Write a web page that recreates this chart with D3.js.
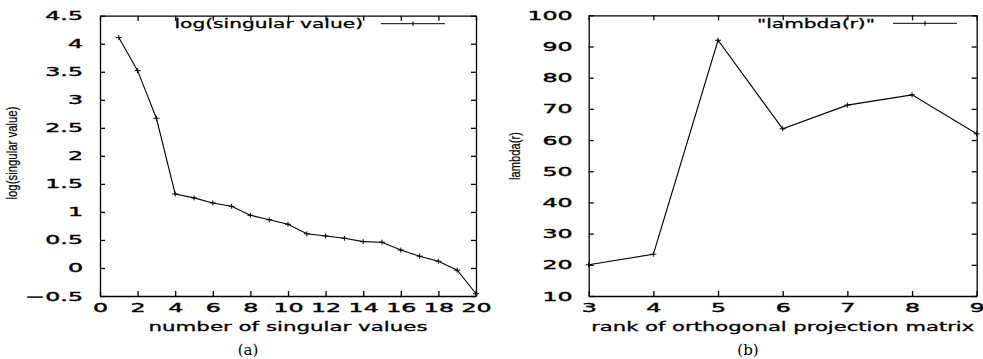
<!DOCTYPE html>
<html>
<head>
<meta charset="utf-8">
<script src="https://cdn.jsdelivr.net/npm/d3@7"></script>
<style>
body { margin: 0; background: #fff; }
svg { display: block; }
.domain, .tick line { stroke: #000; stroke-width: 1.3; }
</style>
</head>
<body>
<script>
// left panel: log of singular values
var svIndex = [1,2,3,4,5,6,7,8,9,10,11,12,13,14,15,16,17,18,19,20];
var svLog = [4.11,3.52,2.67,1.32,1.25,1.16,1.10,0.94,0.86,0.78,0.61,0.57,0.53,0.47,0.46,0.32,0.21,0.12,-0.04,-0.46];
var svXTicks = [0,2,4,6,8,10,12,14,16,18,20];
var svYTicks = [-0.5,0,0.5,1,1.5,2,2.5,3,3.5,4,4.5];

// right panel: lambda(r)
var rank = [3,4,5,6,7,8,9];
var lambda = [20.0,23.4,92.0,63.6,71.2,74.5,62.0];
var rankTicks = [3,4,5,6,7,8,9];
var lambdaTicks = [10,20,30,40,50,60,70,80,90,100];

var WIDE = 1.9; // the original lettering is wide

var svg = d3.select('body')
  .append('svg')
  .attr('width', 983)
  .attr('height', 359);

function stretch(k) {
  return function(sel) {
    sel.each(function() {
      var w = this.getComputedTextLength();
      d3.select(this).attr('textLength', w * k).attr('lengthAdjust', 'spacingAndGlyphs');
    });
  };
}

function tickFont(sel) {
  sel.style('font-family', '"DejaVu Sans", sans-serif')
    .style('font-size', '12.5px')
    .style('fill', '#000')
    .style('stroke', '#000')
    .style('stroke-width', '0.4px');
}

function panel(opt) {
  var x = d3.scaleLinear().domain(opt.xDomain).range([opt.left, opt.right]);
  var y = d3.scaleLinear().domain(opt.yDomain).range([opt.bottom, opt.top]);
  var g = svg.append('g');

  // frame with inward ticks on all four sides
  var xb = g.append('g')
    .attr('transform', 'translate(0,' + opt.bottom + ')')
    .call(d3.axisBottom(x).tickValues(opt.xTicks).tickSizeInner(-5).tickSizeOuter(0).tickPadding(7).tickFormat(d3.format('')));
  g.append('g')
    .attr('transform', 'translate(0,' + opt.top + ')')
    .call(d3.axisTop(x).tickValues(opt.xTicks).tickSizeInner(-5).tickSizeOuter(0).tickFormat(''));
  var yl = g.append('g')
    .attr('transform', 'translate(' + opt.left + ',0)')
    .call(d3.axisLeft(y).tickValues(opt.yTicks).tickSizeInner(-5).tickSizeOuter(0).tickFormat(d3.format('')));
  g.append('g')
    .attr('transform', 'translate(' + opt.right + ',0)')
    .call(d3.axisRight(y).tickValues(opt.yTicks).tickSizeInner(-5).tickSizeOuter(0).tickFormat(''));

  xb.selectAll('.tick text')
    .call(tickFont)
    .attr('text-anchor', 'middle')
    .attr('transform', 'scale(' + WIDE + ',1)');
  yl.selectAll('.tick text')
    .call(tickFont)
    .attr('text-anchor', 'end')
    .attr('x', -opt.yPad / WIDE)
    .attr('transform', 'scale(' + WIDE + ',1)');

  var pts = opt.xs.map(function(d, i) { return [d, opt.ys[i]]; });

  g.append('path')
    .datum(pts)
    .attr('fill', 'none')
    .attr('stroke', '#000')
    .attr('stroke-width', 1.1)
    .attr('d', d3.line().x(function(d) { return x(d[0]); }).y(function(d) { return y(d[1]); }));

  g.selectAll('.pt')
    .data(pts)
    .enter()
    .append('path')
    .attr('class', 'pt')
    .attr('stroke', '#000')
    .attr('stroke-width', 1)
    .attr('d', function(d) {
      var px = x(d[0]), py = y(d[1]);
      return 'M' + (px - 3) + ',' + py + 'H' + (px + 3) + 'M' + px + ',' + (py - 2.5) + 'V' + (py + 2.5);
    });

  // legend
  g.append('text')
    .attr('x', opt.legendX)
    .attr('y', opt.top + 12.5)
    .attr('text-anchor', 'end')
    .attr('font-family', 'DejaVu Sans, sans-serif')
    .attr('font-size', 13)
    .attr('stroke', '#000')
    .attr('stroke-width', 0.3)
    .text(opt.legend)
    .call(stretch(1.55));
  var lx = opt.legendX + 18, ly = opt.top + 8;
  g.append('path')
    .attr('stroke', '#000')
    .attr('stroke-width', 1)
    .attr('d', 'M' + lx + ',' + ly + 'H' + (lx + 64) + 'M' + (lx + 32) + ',' + (ly - 2.5) + 'V' + (ly + 2.5));

  // axis titles
  g.append('text')
    .attr('x', (opt.left + opt.right) / 2)
    .attr('y', 331)
    .attr('text-anchor', 'middle')
    .attr('font-family', 'DejaVu Sans, sans-serif')
    .attr('font-size', 13)
    .attr('stroke', '#000')
    .attr('stroke-width', 0.3)
    .attr('textLength', opt.xTitleW)
    .attr('lengthAdjust', 'spacingAndGlyphs')
    .text(opt.xTitle);

  g.append('text')
    .attr('transform', 'translate(' + opt.yTitleX + ',' + opt.yTitleY + ') rotate(-90)')
    .attr('text-anchor', 'middle')
    .attr('font-family', 'Liberation Sans Narrow, Liberation Sans, sans-serif')
    .attr('font-size', 14)
    .attr('stroke', '#000')
    .attr('stroke-width', 0.2)
    .attr('textLength', opt.yTitleW)
    .attr('lengthAdjust', 'spacingAndGlyphs')
    .text(opt.yTitle);

  g.append('text')
    .attr('x', opt.capX)
    .attr('y', 355)
    .attr('text-anchor', 'middle')
    .attr('font-family', 'DejaVu Serif, serif')
    .attr('font-size', 15)
    .text(opt.caption);
}

panel({
  left: 100, right: 476, top: 15.7, bottom: 296, yPad: 17,
  xDomain: [0, 20], yDomain: [-0.5, 4.5],
  xTicks: svXTicks, yTicks: svYTicks,
  xs: svIndex, ys: svLog,
  legend: 'log(singular value)', legendX: 363,
  xTitle: 'number of singular values', xTitleW: 279,
  yTitle: 'log(singular value)', yTitleX: 17, yTitleY: 153, yTitleW: 93,
  caption: '(a)', capX: 248
});

panel({
  left: 588.7, right: 976.7, top: 15.3, bottom: 296, yPad: 16,
  xDomain: [3, 9], yDomain: [10, 100],
  xTicks: rankTicks, yTicks: lambdaTicks,
  xs: rank, ys: lambda,
  legend: '"lambda(r)"', legendX: 875,
  xTitle: 'rank of orthogonal projection matrix', xTitleW: 383,
  yTitle: 'lambda(r)', yTitleX: 520, yTitleY: 156, yTitleW: 48,
  caption: '(b)', capX: 748
});
</script>
</body>
</html>
